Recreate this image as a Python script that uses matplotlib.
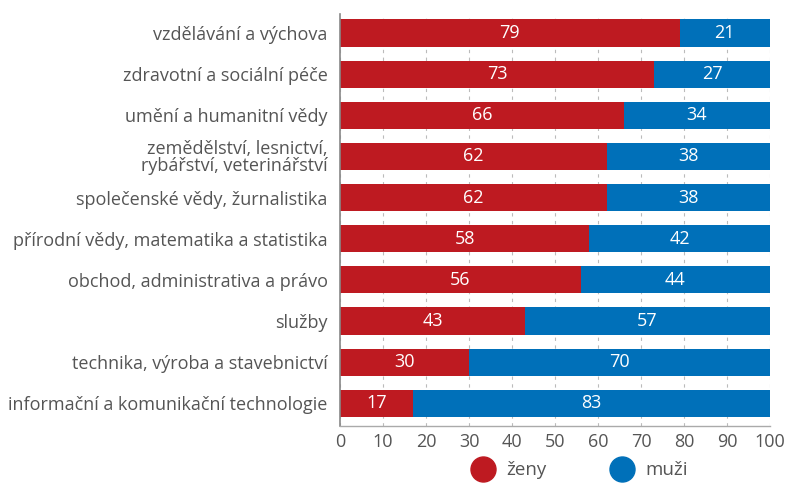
import matplotlib.pyplot as plt
from matplotlib.lines import Line2D
import numpy as np

categories = [
    "vzdělávání a výchova",
    "zdravotní a sociální péče",
    "umění a humanitní vědy",
    "zemědělství, lesnictví,\nrybářství, veterinářství",
    "společenské vědy, žurnalistika",
    "přírodní vědy, matematika a statistika",
    "obchod, administrativa a právo",
    "služby",
    "technika, výroba a stavebnictví",
    "informační a komunikační technologie",
]
zeny = [79, 73, 66, 62, 62, 58, 56, 43, 30, 17]
muzi = [21, 27, 34, 38, 38, 42, 44, 57, 70, 83]

RED = "#be1a21"
BLUE = "#0070b9"
GRAY = "#555555"

plt.rcParams['font.family'] = ['Open Sans', 'DejaVu Sans']

fig = plt.figure(figsize=(7.87, 4.84), dpi=100)
ax = fig.add_axes([340 / 787, 1 - 426 / 484, 430 / 787, 412 / 484])

y = np.arange(len(categories))
h = 0.66
ax.barh(y, zeny, height=h, color=RED, zorder=2)
ax.barh(y, muzi, left=zeny, height=h, color=BLUE, zorder=2)

for i in range(len(categories)):
    ax.text(zeny[i] / 2, y[i], str(zeny[i]), color="white", ha="center",
            va="center", fontsize=13, zorder=3)
    ax.text(zeny[i] + muzi[i] / 2, y[i], str(muzi[i]), color="white",
            ha="center", va="center", fontsize=13, zorder=3)

ax.set_xlim(0, 100)
ax.set_ylim(9.55, -0.46)
ax.set_xticks(range(0, 101, 10))
ax.set_yticks(y)
ax.set_yticklabels(categories, linespacing=0.9, multialignment="right")
ax.tick_params(axis="y", length=0, pad=9, labelsize=13, labelcolor=GRAY)
ax.tick_params(axis="x", length=0, pad=5, labelsize=13, labelcolor=GRAY)
ax.xaxis.grid(True, linestyle=(0, (3, 4)), color="#bbbbbb", linewidth=0.8, zorder=0)
ax.set_axisbelow(True)

for s in ["top", "right"]:
    ax.spines[s].set_visible(False)
ax.spines["left"].set_color("#888888")
ax.spines["left"].set_linewidth(1.2)
ax.spines["bottom"].set_color("#aaaaaa")
ax.spines["bottom"].set_linewidth(1)

handles = [
    Line2D([], [], marker="o", linestyle="", markersize=18, color=RED),
    Line2D([], [], marker="o", linestyle="", markersize=18, color=BLUE),
]
fig.legend(handles, ["ženy", "muži"], loc="center", bbox_to_anchor=(0.732, 0.028),
           ncol=2, frameon=False, fontsize=13.5, labelcolor=GRAY,
           handletextpad=0.25, columnspacing=3.0)

fig.savefig("out.png", dpi=100)
